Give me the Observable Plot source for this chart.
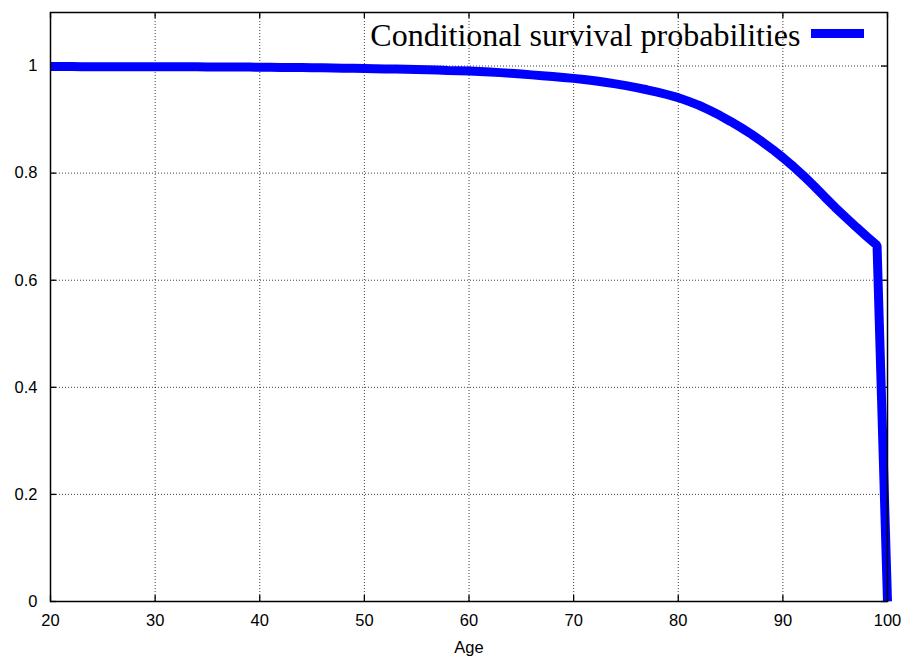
<!DOCTYPE html>
<html><head><meta charset="utf-8">
<script src="https://cdn.jsdelivr.net/npm/d3@7"></script>
<script src="https://cdn.jsdelivr.net/npm/@observablehq/plot@0.6"></script>
<style>body{margin:0;background:#fff} svg{display:block}</style>
</head><body><div id="chart"></div>
<script>
const ages = [20,21,22,23,24,25,26,27,28,29,30,31,32,33,34,35,36,37,38,39,
  40,41,42,43,44,45,46,47,48,49,50,51,52,53,54,55,56,57,58,59,
  60,61,62,63,64,65,66,67,68,69,70,71,72,73,74,75,76,77,78,79,
  80,81,82,83,84,85,86,87,88,89,90,91,92,93,94,95,96,97,98,99,100];
const survival = [0.9990,0.9990,0.9990,0.9989,0.9989,0.9989,0.9989,0.9988,0.9988,0.9988,
  0.9987,0.9987,0.9986,0.9986,0.9985,0.9984,0.9983,0.9982,0.9981,0.9980,
  0.9978,0.9977,0.9975,0.9973,0.9971,0.9969,0.9967,0.9964,0.9961,0.9958,
  0.9955,0.9951,0.9947,0.9943,0.9939,0.9935,0.9930,0.9925,0.9919,0.9914,
  0.9908,0.9900,0.9889,0.9877,0.9864,0.9850,0.9835,0.9820,0.9804,0.9787,
  0.9770,0.9748,0.9724,0.9697,0.9667,0.9634,0.9597,0.9557,0.9513,0.9464,
  0.9410,0.9340,0.9265,0.9175,0.9075,0.8965,0.8850,0.8725,0.8590,0.8445,
  0.8290,0.8125,0.7945,0.7755,0.7555,0.7360,0.7175,0.6995,0.6820,0.6650,0.0];
const xTicks = [20,30,40,50,60,70,80,90,100];
const yTicks = [0,0.2,0.4,0.6,0.8,1];
const seriesLabel = "Conditional survival probabilities";
const xLabel = "Age";

const data = ages.map((a, i) => ({age: a, p: survival[i]}));
const xDomain = [20, 100], yDomain = [0, 1.1];
const W = 910, H = 664, mL = 50, mR = 23, mT = 12, mB = 63;
const pxX = (xDomain[1] - xDomain[0]) / (W - mL - mR);
const pxY = (yDomain[1] - yDomain[0]) / (H - mT - mB);
const tick = 6;
const xAt = px => xDomain[0] + (px - mL) * pxX;
const yAt = py => yDomain[1] - (py - mT) * pxY;
const xGrid = xTicks.filter(d => d > xDomain[0] && d < xDomain[1]);
const yGrid = yTicks.filter(d => d > yDomain[0] && d < yDomain[1]);
const gridStyle = {stroke: "#000", strokeOpacity: 0.75, strokeWidth: 1, strokeDasharray: "1,2"};

const chart = Plot.plot({
  width: W, height: H,
  marginLeft: mL, marginRight: mR, marginTop: mT, marginBottom: mB,
  style: {fontFamily: "'Liberation Sans', Arial, sans-serif", fontSize: "16.5px", background: "#fff", color: "#000"},
  x: {domain: xDomain},
  y: {domain: yDomain},
  marks: [
    Plot.ruleX(xGrid, {x: d => d, ...gridStyle}),
    Plot.ruleY(yGrid, {y: d => d, ...gridStyle}),
    Plot.axisX({ticks: xTicks, tickSize: 0, tickPadding: 13, label: null, tickFormat: d => String(d)}),
    Plot.axisY({ticks: yTicks, tickSize: 0, tickPadding: 13, label: null, tickFormat: d => String(+d.toFixed(1))}),
    Plot.text([xLabel], {x: (xDomain[0] + xDomain[1]) / 2, frameAnchor: "bottom", dy: 46, lineAnchor: "middle"}),
    Plot.ruleX(xTicks, {x: d => d, y1: yDomain[0], y2: yDomain[0] + tick * pxY, stroke: "#000", strokeWidth: 1.3}),
    Plot.ruleX(xTicks, {x: d => d, y1: yDomain[1], y2: yDomain[1] - tick * pxY, stroke: "#000", strokeWidth: 1.3}),
    Plot.ruleY(yTicks, {y: d => d, x1: xDomain[0], x2: xDomain[0] + tick * pxX, stroke: "#000", strokeWidth: 1.3}),
    Plot.ruleY(yTicks, {y: d => d, x1: xDomain[1], x2: xDomain[1] - tick * pxX, stroke: "#000", strokeWidth: 1.3}),
    Plot.text([seriesLabel], {frameAnchor: "top-right", dx: -87, dy: 23, textAnchor: "end", lineAnchor: "middle",
      fontFamily: "'Liberation Serif', 'Times New Roman', serif", fontSize: 32, fill: "#000"}),
    Plot.ruleY([yAt(33)], {x1: xAt(811), x2: xAt(864), stroke: "#0000ff", strokeWidth: 9}),
    Plot.line(data, {x: "age", y: "p", stroke: "#0000ff", strokeWidth: 9, strokeLinejoin: "miter", strokeLinecap: "butt"}),
    Plot.frame({stroke: "#000", strokeWidth: 1.5})
  ]
});
document.getElementById("chart").appendChild(chart);
</script>
</body></html>
